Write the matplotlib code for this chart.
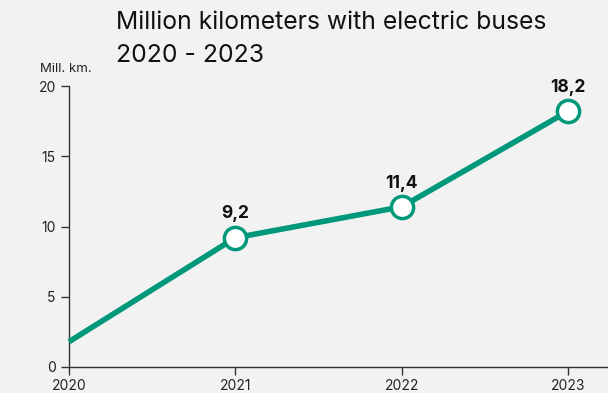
import matplotlib.pyplot as plt

# yearly distance driven with electric buses (million km)
years = [2020, 2021, 2022, 2023]
mill_km = [1.8, 9.2, 11.4, 18.2]
value_labels = ['', '9,2', '11,4', '18,2']

green = '#00987a'
bg = '#f2f2f2'

plt.rcParams['font.family'] = ['Inter', 'DejaVu Sans']

fig = plt.figure(figsize=(6.08, 3.93), dpi=100, facecolor=bg)
ax = fig.add_axes([69/608, 26/393, 1 - 69/608, (367-86)/393], facecolor=bg)

ax.plot(years, mill_km, color=green, lw=4, solid_capstyle='butt', zorder=3, clip_on=False)
ax.plot(years[1:], mill_km[1:], 'o', ms=16, mfc='white', mec=green, mew=2.5, zorder=4, clip_on=False)

for x, y, lab in zip(years, mill_km, value_labels):
    if lab:
        ax.annotate(lab, (x, y), xytext=(0, 11), textcoords='offset points',
                    ha='center', va='bottom', fontsize=12.5, fontweight='bold', color='#111111')

ax.set_xlim(2020, 2020 + 539/(499/3))
ax.set_ylim(0, 20)
ax.set_xticks(years)
ax.set_xticklabels([str(y) for y in years])
ax.set_yticks([0, 5, 10, 15, 20])

for s in ['top', 'right']:
    ax.spines[s].set_visible(False)
for s in ['left', 'bottom']:
    ax.spines[s].set_color('#333333')
    ax.spines[s].set_linewidth(1)
ax.tick_params(colors='#333333', labelsize=10, length=6, width=1, labelcolor='#222222')
ax.tick_params(axis='x', pad=3)

fig.text(40/608, 1 - 69/393, 'Mill. km.', fontsize=9.5, color='#222222', va='center', ha='left')
fig.text(116/608, 1 - 11/393, 'Million kilometers with electric buses\n2020 - 2023',
         fontsize=17.8, color='#111111', va='top', ha='left', linespacing=1.55)

fig.savefig('out.png', dpi=100, facecolor=bg)
